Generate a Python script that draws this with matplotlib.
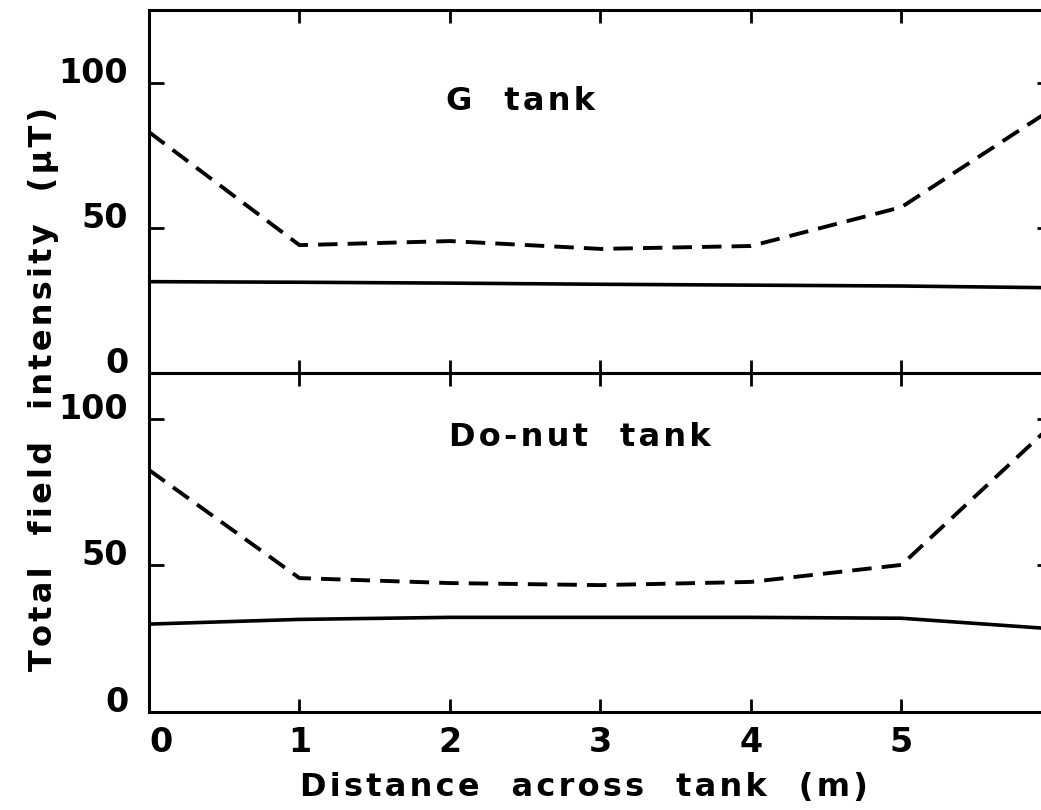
import numpy as np
import matplotlib as mpl
mpl.use('Agg')
import matplotlib.pyplot as plt

mpl.rc('font', family='DejaVu Sans', weight='bold')

# distance across tank (m)
dist = [0, 1, 2, 3, 4, 5, 6]

# G tank: total field intensity (uT)
g_dashed = [83.1, 44.1, 45.5, 42.8, 43.8, 57.2, 91.0]
g_solid = [31.5, 31.3, 31.0, 30.6, 30.3, 30.0, 29.4]

# Do-nut tank
d_dashed = [82.6, 45.7, 44.0, 43.3, 44.4, 50.2, 98.0]
d_solid = [30.0, 31.6, 32.3, 32.3, 32.3, 32.0, 28.4]

xticks = [0, 1, 2, 3, 4, 5]
yticks = [0, 50, 100]


def spaced(s):
    # widen the lettering a little with hair spaces
    return '\u200a'.join(s)


fig = plt.figure(figsize=(10.41, 8.10), dpi=100)
left, width = 0.1431, 0.8674
ax1 = fig.add_axes([left, 0.5395, width, 0.4482])
ax2 = fig.add_axes([left, 0.1210, width, 0.4185])

lw_sp = 2.2
for ax, dash, solid, ymax, name, tx, ty in [
        (ax1, g_dashed, g_solid, 125.2, 'G  tank', 0.412, 0.749),
        (ax2, d_dashed, d_solid, 115.7, 'Do-nut  tank', 0.477, 0.811)]:
    ax.plot(dist, dash, color='black', lw=2.8, dashes=(5.0, 2.6))
    ax.plot(dist, solid, color='black', lw=2.6)
    ax.set_xlim(0, 6)
    ax.set_ylim(0, ymax)
    ax.set_xticks(xticks)
    ax.set_yticks(yticks)
    for s in ax.spines.values():
        s.set_linewidth(lw_sp)
    ax.tick_params(axis='y', direction='in', length=11, width=2.0,
                   left=True, right=True, labelsize=24, pad=15)
    ax.tick_params(axis='x', direction='in', length=9.5, width=2.0,
                   top=True, bottom=True, labelsize=24, pad=10)
    for lab in ax.get_yticklabels():
        lab.set_va('baseline')
    ax.text(tx, ty, spaced(name), transform=ax.transAxes, fontsize=23,
            ha='center', va='center')

ax1.tick_params(axis='x', labelbottom=False)
ax1.spines['right'].set_visible(False)
ax2.spines['right'].set_visible(False)
ax2.get_xticklabels()[0].set_ha('left')

fig.text(0.561, 0.017, spaced('Distance  across  tank  (m)'), fontsize=23,
         ha='center', va='baseline')
fig.text(0.042, 0.52, spaced('Total  field  intensity  (\u00b5T)'), rotation=90,
         fontsize=23, ha='center', va='center')

fig.savefig('out.png', dpi=100)
